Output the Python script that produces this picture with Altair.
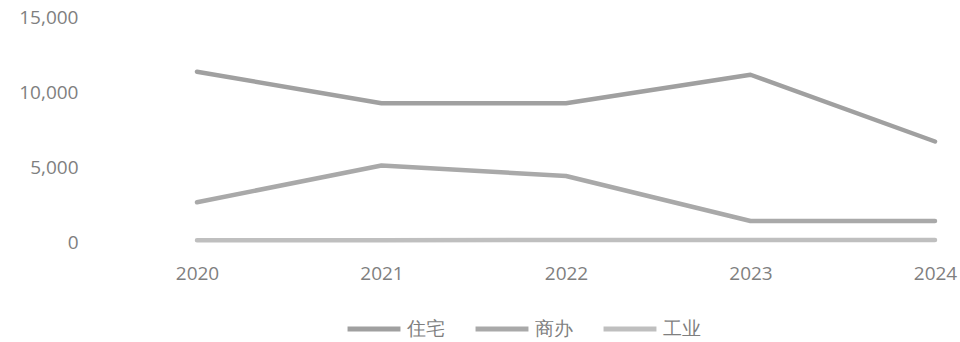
import altair as alt
import pandas as pd

years = ["2020", "2021", "2022", "2023", "2024"]
series_names = ["住宅", "商办", "工业"]
residential = [11350, 9250, 9250, 11150, 6700]
commercial = [2650, 5100, 4400, 1400, 1400]
industrial = [120, 120, 130, 130, 130]
colors = ["#a0a0a0", "#a9a9a9", "#bfbfbf"]

rows = []
for name, vals in zip(series_names, [residential, commercial, industrial]):
    for y, v in zip(years, vals):
        rows.append({"year": y, "type": name, "value": v})
df = pd.DataFrame(rows)

font = "Open Sans"
label_color = "#7f7f7f"

chart = alt.Chart(df).mark_line(strokeWidth=4.5, strokeCap="round", strokeJoin="round").encode(
    x=alt.X("year:O", sort=years, title=None,
            scale=alt.Scale(type="point", padding=0),
            axis=alt.Axis(labelAngle=0, domain=False, ticks=False, labelPadding=22,
                          labelFontSize=19, labelColor=label_color, labelFont=font)),
    y=alt.Y("value:Q", title=None,
            scale=alt.Scale(domain=[0, 15000], nice=False),
            axis=alt.Axis(values=[0, 5000, 10000, 15000], format=",d", domain=False, ticks=False,
                          grid=False, labelPadding=119, labelFontSize=19,
                          labelColor=label_color, labelFont=font)),
    color=alt.Color("type:N", sort=series_names, title=None,
                    scale=alt.Scale(domain=series_names, range=colors),
                    legend=alt.Legend(orient="none", legendX=148, legendY=283, direction="horizontal",
                                      symbolType="stroke", symbolSize=2800, symbolStrokeWidth=5,
                                      labelFontSize=19, labelColor=label_color, labelFont=font,
                                      columnPadding=20, labelOffset=4, symbolOffset=0)),
    order=alt.Order("year:O"),
).properties(
    width=738, height=225,
    background="white",
    autosize=alt.AutoSizeParams(type="none"),
    padding={"left": 197, "top": 17, "right": 25, "bottom": 100},
).configure_view(strokeWidth=0, stroke=None)

chart.save("out.html", embed_options={"renderer": "svg", "actions": False})
